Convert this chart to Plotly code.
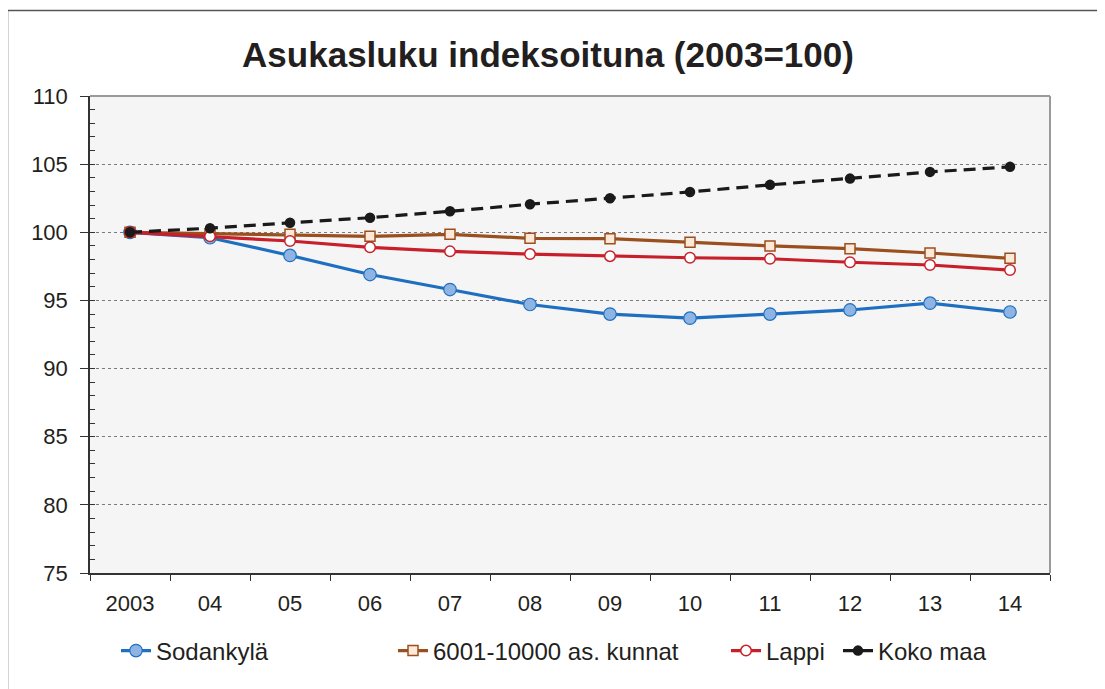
import plotly.graph_objects as go

years = ["2003", "04", "05", "06", "07", "08", "09", "10", "11", "12", "13", "14"]
sodankyla = [100.0, 99.6, 98.3, 96.9, 95.8, 94.7, 94.0, 93.7, 94.0, 94.3, 94.8, 94.15]
kunnat = [100.0, 99.9, 99.85, 99.7, 99.85, 99.56, 99.53, 99.26, 99.0, 98.8, 98.48, 98.09]
lappi = [100.0, 99.7, 99.36, 98.9, 98.6, 98.4, 98.25, 98.13, 98.06, 97.8, 97.6, 97.23]
koko_maa = [100.0, 100.3, 100.7, 101.07, 101.54, 102.06, 102.5, 102.96, 103.48, 103.94, 104.43, 104.8]
names = ["Sodankylä", "6001-10000 as. kunnat", "Lappi", "Koko maa"]

OFF = 8  # page body margin
W, H = 1105 - OFF, 689 - OFF
# plot area in screen pixels
SL, SR, ST, SB = 90, 1050, 96, 573
L, R, T, B = SL - OFF, SR - OFF, ST - OFF, SB - OFF
PW, PH = R - L, B - T

def px_x(p):  # screen px -> paper
    return (p - OFF - L) / PW

def px_y(p):
    return (B - (p - OFF)) / PH

FONT = "Liberation Sans, Arial, sans-serif"
TXT = "#231f20"

fig = go.Figure()
fig.add_trace(go.Scatter(
    x=years, y=sodankyla, name=names[0], mode="lines+markers",
    line=dict(color="#1f6fc0", width=3.2),
    marker=dict(symbol="circle", size=12.5, color="#8db4e2", line=dict(color="#1f6fc0", width=1.2)),
    legend="legend"))
fig.add_trace(go.Scatter(
    x=years, y=kunnat, name=names[1], mode="lines+markers",
    line=dict(color="#9c4f1e", width=3.2),
    marker=dict(symbol="square", size=10, color="#fde9d9", line=dict(color="#9c4f1e", width=1.5)),
    legend="legend2"))
fig.add_trace(go.Scatter(
    x=years, y=lappi, name=names[2], mode="lines+markers",
    line=dict(color="#c8202a", width=3.2),
    marker=dict(symbol="circle", size=10.5, color="#ffffff", line=dict(color="#c8202a", width=1.5)),
    legend="legend3"))
fig.add_trace(go.Scatter(
    x=years, y=koko_maa, name=names[3], mode="lines+markers",
    line=dict(color="#1a1a1a", width=3.2, dash="12px,7px"),
    marker=dict(symbol="circle", size=10.5, color="#1a1a1a"),
    legend="legend4"))

leg_common = dict(orientation="h", yanchor="middle", y=px_y(651), xanchor="left",
                  font=dict(family=FONT, size=24, color=TXT), bgcolor="rgba(0,0,0,0)")
text_starts = [156, 433, 766, 878]
legs = {}
for i, key in enumerate(["legend", "legend2", "legend3", "legend4"]):
    legs[key] = dict(leg_common, x=px_x(text_starts[i] - 40))

fig.update_layout(
    width=W, height=H,
    margin=dict(l=L, r=W - R, t=T, b=H - B),
    paper_bgcolor="white",
    plot_bgcolor="#f5f5f5",
    title=dict(text="<b>Asukasluku indeksoituna (2003=100)</b>",
               xref="container", x=(548 - OFF) / W, xanchor="center",
               y=1 - (55 - OFF) / H, yanchor="middle",
               font=dict(family=FONT, size=35, color=TXT)),
    showlegend=True,
    **legs,
)

fig.update_xaxes(
    type="category", range=[-0.5, 11.5], tickson="boundaries",
    ticks="outside", ticklen=6, tickcolor="#333333", tickwidth=1,
    showline=True, linecolor="#333333", linewidth=1.5,
    showgrid=False, ticklabelstandoff=10,
    tickfont=dict(family=FONT, size=22, color=TXT),
    mirror=False,
)
fig.update_yaxes(
    range=[75, 110], dtick=5, tick0=75,
    ticks="outside", ticklen=8, tickcolor="#333333", tickwidth=1,
    showline=True, linecolor="#333333", linewidth=1.5,
    showgrid=True, gridcolor="#7a7a7a", griddash="dot", gridwidth=1,
    ticklabelstandoff=8,
    tickfont=dict(family=FONT, size=22, color=TXT),
    minor=dict(dtick=1, tick0=75, ticks="inside", ticklen=5, tickcolor="#333333", showgrid=False),
    zeroline=False,
)

# plot area top/right border (gray)
fig.add_shape(type="line", xref="paper", yref="paper", x0=0, x1=1, y0=1, y1=1,
              line=dict(color="#9a9a9a", width=2), layer="above")
fig.add_shape(type="line", xref="paper", yref="paper", x0=1, x1=1, y0=0, y1=1,
              line=dict(color="#9a9a9a", width=2), layer="above")
# outer chart frame
fig.add_shape(type="rect", xref="paper", yref="paper",
              x0=px_x(7.5), x1=px_x(1130), y0=px_y(10.5), y1=px_y(720),
              line=dict(color="#555555", width=1.5), fillcolor="rgba(0,0,0,0)", layer="below")

fig.write_html("out.html")
